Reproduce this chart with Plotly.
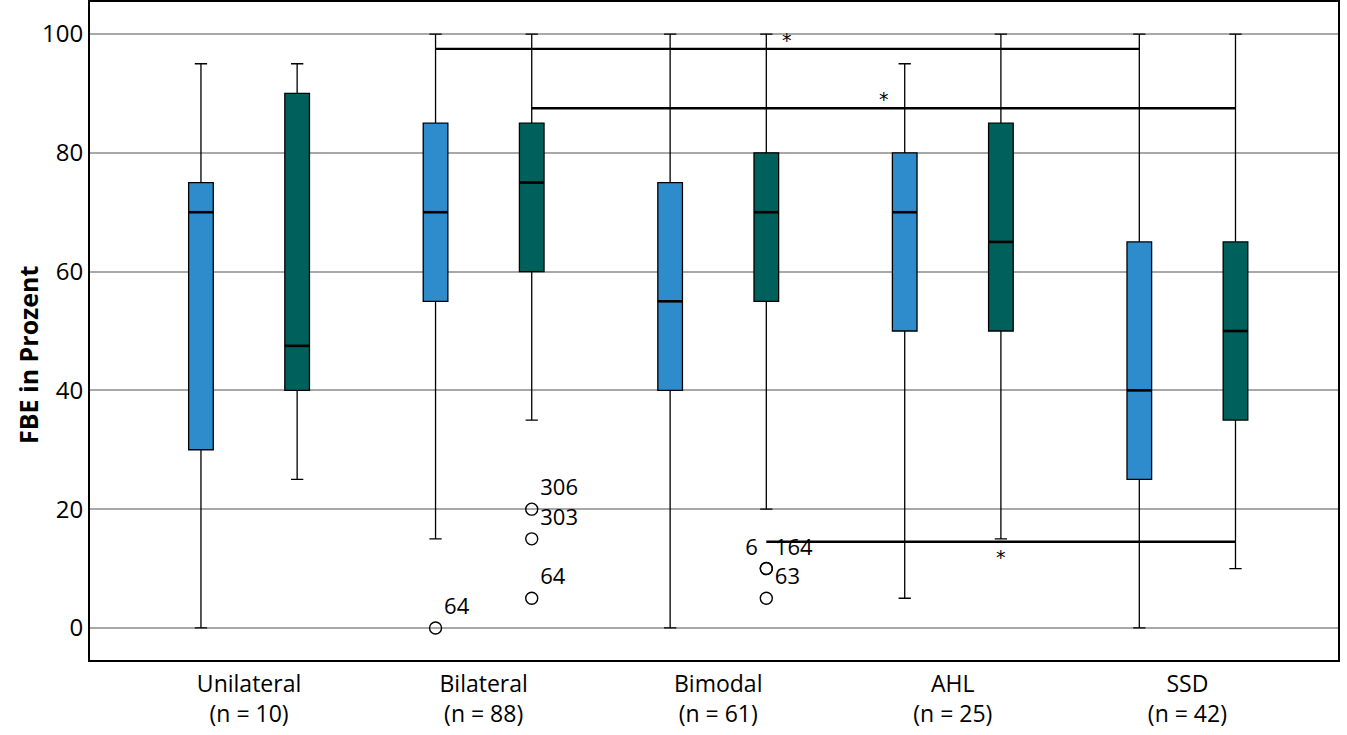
import plotly.graph_objects as go

categories = ["Unilateral", "Bilateral", "Bimodal", "AHL", "SSD"]
n_counts = [10, 88, 61, 25, 42]

# series 1 (blue)
blue_min = [0, 15, 0, 5, 0]
blue_q1 = [30, 55, 40, 50, 25]
blue_med = [70, 70, 55, 70, 40]
blue_q3 = [75, 85, 75, 80, 65]
blue_max = [95, 100, 100, 95, 100]

# series 2 (teal)
teal_min = [25, 35, 20, 15, 10]
teal_q1 = [40, 60, 55, 50, 35]
teal_med = [47.5, 75, 70, 65, 50]
teal_q3 = [90, 85, 80, 85, 65]
teal_max = [95, 100, 100, 100, 100]

# outliers: (group index, series 0=blue 1=teal, value, label, label side)
out_group = [1, 1, 1, 1, 2, 2, 2]
out_series = [0, 1, 1, 1, 1, 1, 1]
out_value = [0, 20, 15, 5, 10, 10, 5]
out_label = ["64", "306", "303", "64", "164", "6", "63"]
out_side = ["top right", "top right", "top right", "top right", "top right", "top left", "top right"]

# significance brackets: (group a, series a, group b, series b, y level, star above?)
br_ga = [1, 1, 2]
br_sa = [0, 1, 1]
br_gb = [4, 4, 4]
br_sb = [0, 1, 1]
br_y = [97.5, 87.5, 14.5]
br_above = [True, True, False]

BLUE = "#2e8bcc"
TEAL = "#00605c"
OFF = 0.205
BW = 0.105

def pos(g, s):
    return g + (-OFF if s == 0 else OFF)

fig = go.Figure()

series = [
    (blue_min, blue_q1, blue_med, blue_q3, blue_max, BLUE, 0),
    (teal_min, teal_q1, teal_med, teal_q3, teal_max, TEAL, 1),
]
for mn, q1, md, q3, mx, col, s in series:
    xs = [pos(i, s) for i in range(len(categories))]
    fig.add_trace(go.Box(
        x=xs, q1=q1, median=md, q3=q3, lowerfence=mn, upperfence=mx,
        width=BW, whiskerwidth=0.5, fillcolor=col,
        line=dict(color="black", width=1.3), boxpoints=False,
        showlegend=False, hoverinfo="skip"))
    # thick median lines
    mx_x, mx_y = [], []
    for i, m in enumerate(md):
        p = pos(i, s)
        mx_x += [p - BW / 2, p + BW / 2, None]
        mx_y += [m, m, None]
    fig.add_trace(go.Scatter(x=mx_x, y=mx_y, mode="lines",
                             line=dict(color="black", width=2.6),
                             showlegend=False, hoverinfo="skip"))

# brackets
for ga, sa, gb, sb, yv, above in zip(br_ga, br_sa, br_gb, br_sb, br_y, br_above):
    xa, xb = pos(ga, sa), pos(gb, sb)
    fig.add_trace(go.Scatter(x=[xa, xb], y=[yv, yv], mode="lines",
                             line=dict(color="black", width=2.4),
                             showlegend=False, hoverinfo="skip"))
    fig.add_annotation(x=(xa + xb) / 2, y=yv, text="*", showarrow=False,
                       yshift=9 if above else -15,
                       font=dict(size=19, color="black", family="DejaVu Sans"))

# outliers
ox = [pos(g, s) for g, s in zip(out_group, out_series)]
fig.add_trace(go.Scatter(x=ox, y=out_value, mode="markers+text",
                         text=out_label, textposition=out_side,
                         textfont=dict(size=22, color="black", family="Open Sans"),
                         marker=dict(symbol="circle-open", size=12,
                                     color="black", line=dict(width=1.4)),
                         showlegend=False, hoverinfo="skip"))

ticktext = [f"{c}<br>(n = {n})" for c, n in zip(categories, n_counts)]

# y-axis title as rotated annotation
fig.add_annotation(text="<b>FBE in Prozent</b>", xref="paper", yref="paper",
                   x=-0.0497, y=0.4635, textangle=-90, showarrow=False,
                   xanchor="center", yanchor="middle",
                   font=dict(size=25, family="Open Sans", color="black"))

fig.update_layout(
    width=1347, height=735,
    margin=dict(l=90, r=9, t=2, b=75),
    paper_bgcolor="white", plot_bgcolor="white",
    font=dict(family="Open Sans", size=22, color="black"),
    boxmode="overlay",
)
fig.update_xaxes(range=[-0.678, 4.642], tickvals=list(range(len(categories))),
                 ticktext=ticktext, showgrid=False, zeroline=False,
                 showline=True, linecolor="black", linewidth=2, mirror=True,
                 ticks="", ticklabelstandoff=2, automargin=False,
                 tickfont=dict(size=23, family="Open Sans"))
fig.update_yaxes(range=[-5.4, 105.4], tickvals=[0, 20, 40, 60, 80, 100],
                 showgrid=True, gridcolor="#a8a8a8", gridwidth=1.5,
                 zeroline=False, showline=True, linecolor="black",
                 linewidth=2, mirror=True, ticks="", automargin=False,
                 tickfont=dict(size=24, family="Open Sans"))

fig.write_html("out.html", config={"displayModeBar": False},
               post_script="document.body.style.margin='0';")
